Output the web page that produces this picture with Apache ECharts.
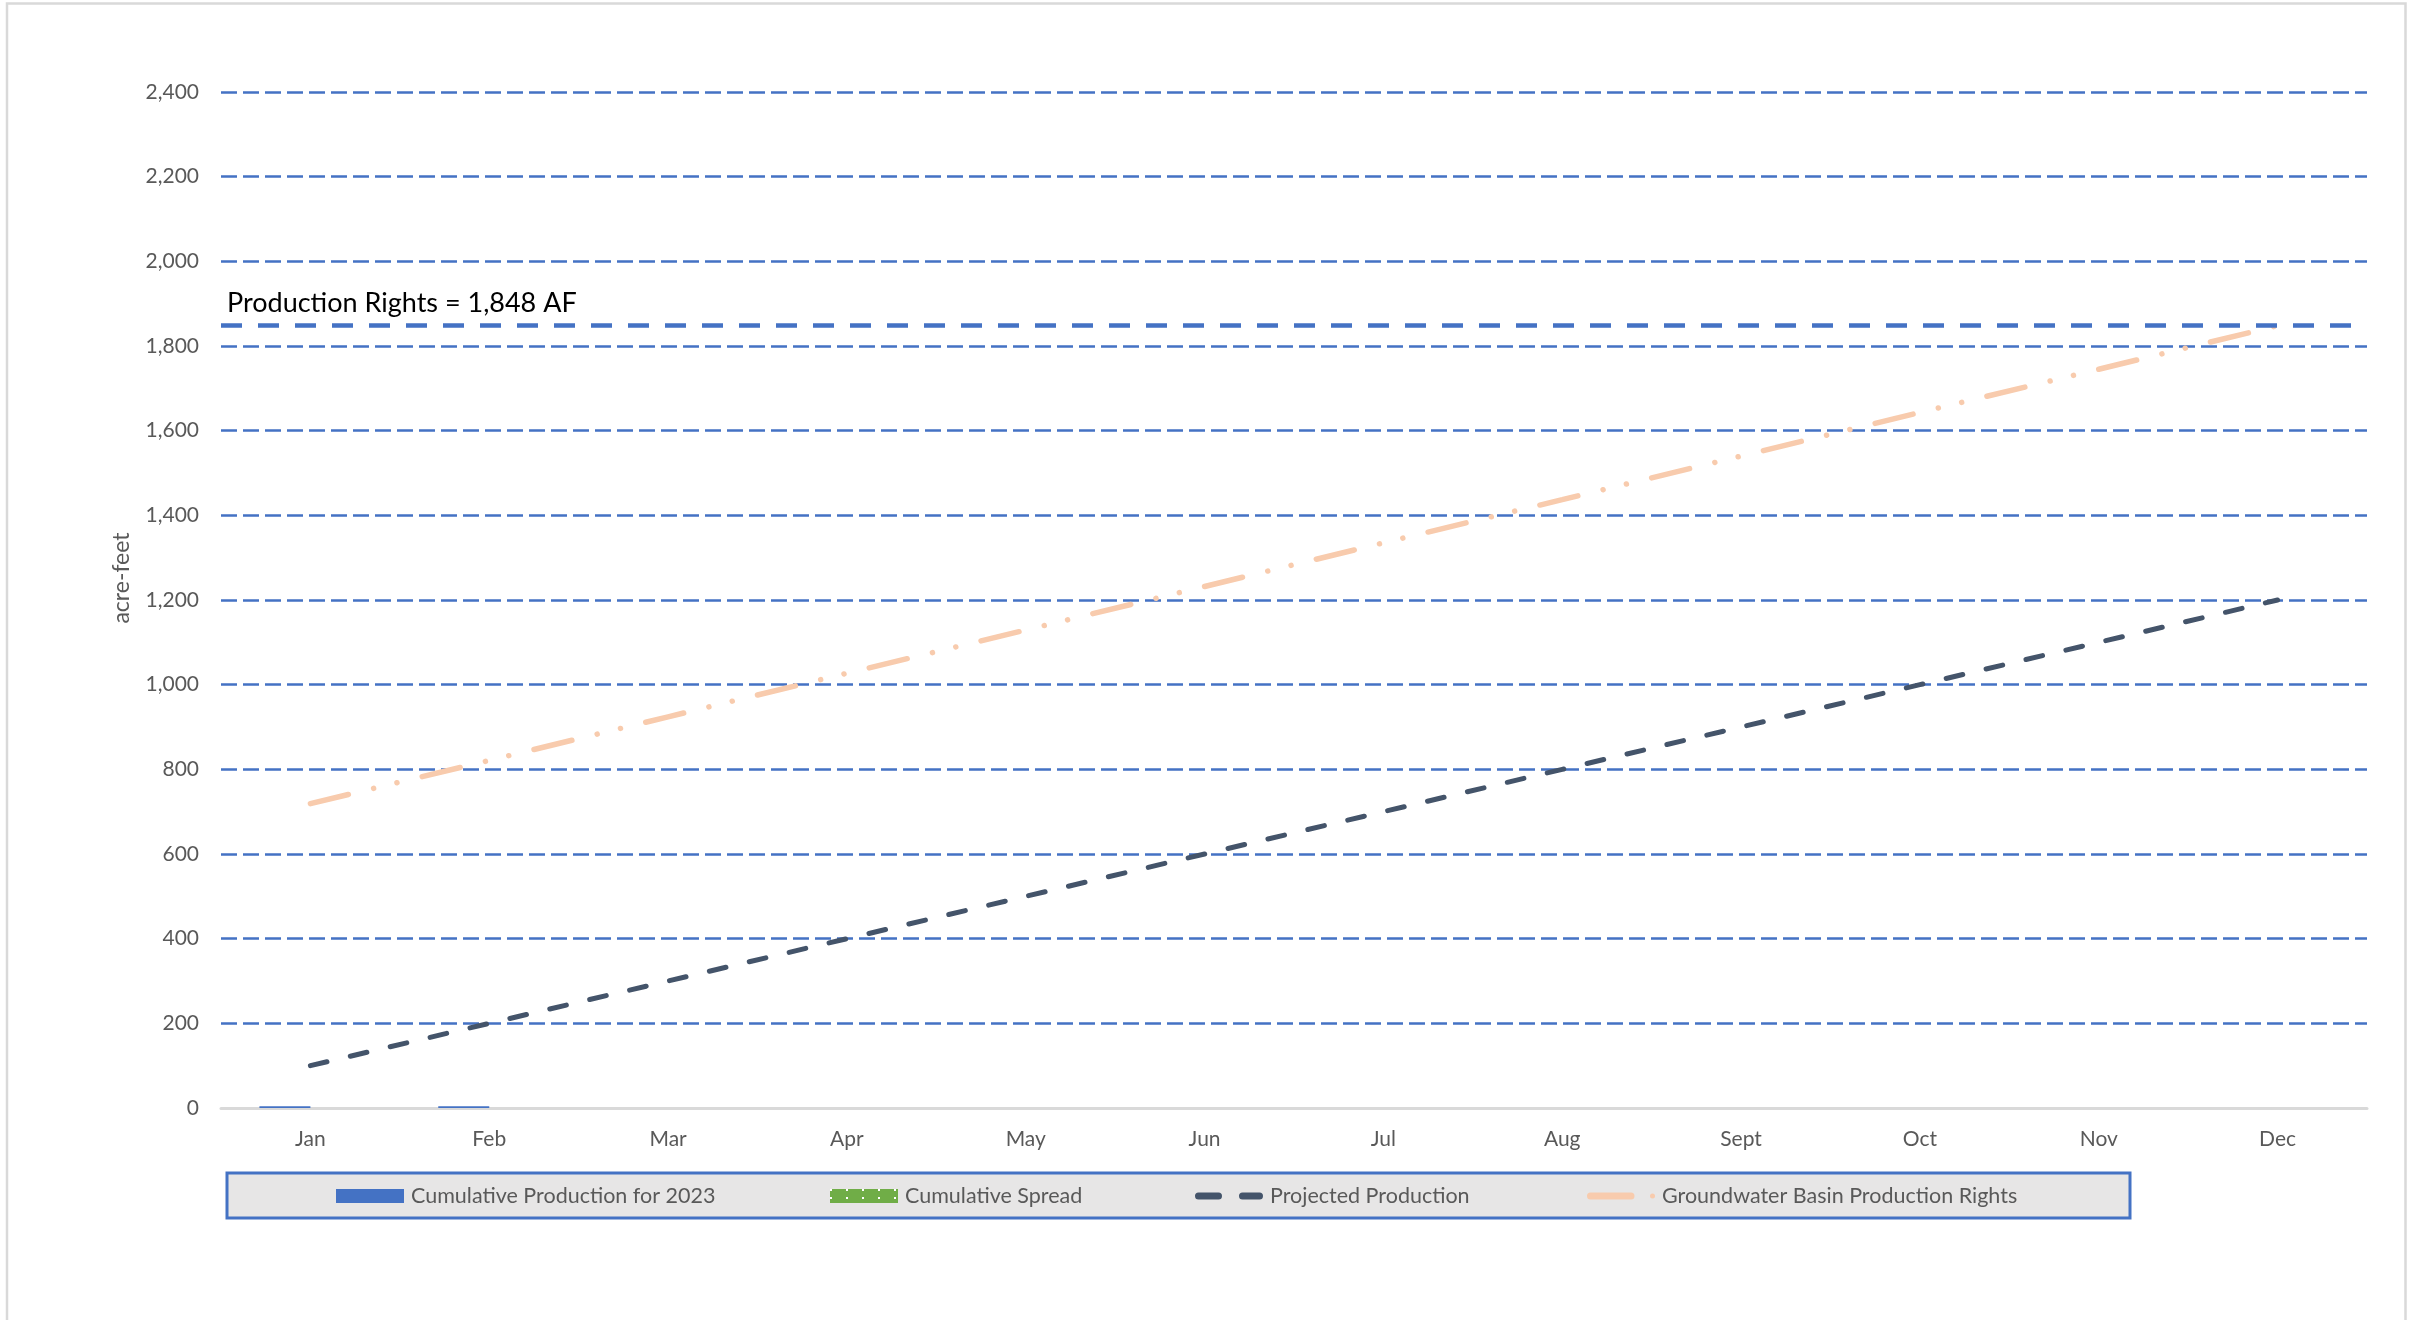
<!DOCTYPE html>
<html>
<head>
<meta charset="utf-8">
<title>Cumulative Production 2023</title>
<script src="https://cdn.jsdelivr.net/npm/echarts@6/dist/echarts.min.js"></script>
<style>
  html, body { margin: 0; padding: 0; background: #ffffff; }
  #chart { width: 2416px; height: 1320px; }
</style>
</head>
<body>
<div id="chart"></div>
<script>
// Months on the category axis
const months = ['Jan', 'Feb', 'Mar', 'Apr', 'May', 'Jun', 'Jul', 'Aug', 'Sept', 'Oct', 'Nov', 'Dec'];

// Cumulative production reported so far this year (acre-feet)
const cumulativeProduction = [4, 4, null, null, null, null, null, null, null, null, null, null];

// Cumulative spread (acre-feet)
const cumulativeSpread = [0, 0, null, null, null, null, null, null, null, null, null, null];

// Projected cumulative production (acre-feet)
const projectedProduction = [100, 200, 300, 400, 500, 600, 700, 800, 900, 1000, 1100, 1200];

// Groundwater basin production rights, cumulative by month (acre-feet)
const basinRights = [719, 821, 924, 1027, 1129, 1232, 1335, 1437, 1540, 1643, 1745, 1848];

// Annual production rights (acre-feet)
const productionRights = 1848;

// Value axis range
const yMin = 0;
const yMax = 2400;
const yStep = 200;

const FONT = 'Lato';
const GREY_TEXT = '#595959';
const BLUE = '#4472C4';

// Legend glyphs for the two line series: a pair of rounded dashes, and a long dash followed by a dot
const dashPairIcon = 'path://M3.5,0 H23.5 A3.5,3.5 0 0 1 23.5,7 H3.5 A3.5,3.5 0 0 1 3.5,0 Z ' +
                     'M47.5,0 H64.5 A3.5,3.5 0 0 1 64.5,7 H47.5 A3.5,3.5 0 0 1 47.5,0 Z';
const dashDotIcon = 'path://M3.5,0 H44 A3.5,3.5 0 0 1 44,7 H3.5 A3.5,3.5 0 0 1 3.5,0 Z ' +
                    'M63,3.5 A2.5,2.5 0 1 0 68,3.5 A2.5,2.5 0 1 0 63,3.5 Z';

const chart = echarts.init(document.getElementById('chart'), null, { renderer: 'canvas' });

const legendCommon = {
  itemWidth: 68,
  itemHeight: 14,
  itemGap: 0,
  top: 1185,
  padding: 0,
  textStyle: { color: GREY_TEXT, fontFamily: FONT, fontSize: 21.5, padding: [0, 0, 0, 2] },
  selectedMode: false
};

const option = {
  animation: false,
  backgroundColor: '#ffffff',
  textStyle: { fontFamily: FONT },
  grid: { left: 221, right: 49, top: 92, bottom: 212, containLabel: false },
  xAxis: {
    type: 'category',
    data: months,
    boundaryGap: true,
    axisLine: { show: true, lineStyle: { color: '#D9D9D9', width: 3 } },
    axisTick: { show: false },
    axisLabel: { color: GREY_TEXT, fontFamily: FONT, fontSize: 21, margin: 21 },
    splitLine: { show: false }
  },
  yAxis: {
    type: 'value',
    min: yMin,
    max: yMax,
    interval: yStep,
    axisLine: { show: false },
    axisTick: { show: false },
    axisLabel: {
      color: GREY_TEXT, fontFamily: FONT, fontSize: 21, margin: 22,
      formatter: v => v.toLocaleString('en-US')
    },
    splitLine: {
      show: true,
      showMinLine: false,
      lineStyle: { color: BLUE, width: 2.5, type: [16, 6] }
    }
  },
  legend: [
    Object.assign({}, legendCommon, {
      left: 336,
      data: [{ name: 'Cumulative Production for 2023', icon: 'rect' }]
    }),
    Object.assign({}, legendCommon, {
      left: 830,
      data: [{ name: 'Cumulative Spread', icon: 'rect' }]
    }),
    Object.assign({}, legendCommon, {
      left: 1195, itemHeight: 7,
      data: [{ name: 'Projected Production', icon: dashPairIcon }]
    }),
    Object.assign({}, legendCommon, {
      left: 1587, itemHeight: 7,
      data: [{ name: 'Groundwater Basin Production Rights', icon: dashDotIcon }]
    })
  ],
  graphic: [
    {
      type: 'rect',
      z: 0,
      silent: true,
      shape: { x: 7, y: 3.5, width: 2398.5, height: 1400 },
      style: { fill: 'none', stroke: '#D9D9D9', lineWidth: 2.5 }
    },
    {
      type: 'rect',
      z: 1,
      silent: true,
      shape: { x: 227, y: 1173, width: 1903, height: 45 },
      style: { fill: '#E7E6E6', stroke: BLUE, lineWidth: 3 }
    },
    {
      type: 'text',
      z: 5,
      silent: true,
      x: 122,
      y: 578,
      rotation: Math.PI / 2,
      style: {
        text: 'acre-feet',
        fill: GREY_TEXT,
        font: '23px ' + FONT,
        align: 'center',
        verticalAlign: 'middle'
      }
    }
  ],
  series: [
    {
      name: 'Cumulative Production for 2023',
      type: 'bar',
      data: cumulativeProduction,
      barWidth: 51,
      barGap: '0%',
      itemStyle: { color: BLUE },
      z: 3,
      markLine: {
        silent: true,
        symbol: ['none', 'none'],
        data: [{ yAxis: productionRights }],
        lineStyle: { color: BLUE, width: 4.5, type: [21, 16] },
        label: {
          show: true,
          position: 'insideStartTop',
          distance: [6, 9],
          formatter: 'Production Rights = ' + productionRights.toLocaleString('en-US') + ' AF',
          color: '#000000',
          fontFamily: FONT,
          fontSize: 27
        },
        z: 6
      }
    },
    {
      name: 'Cumulative Spread',
      type: 'bar',
      data: cumulativeSpread,
      barWidth: 51,
      itemStyle: {
        color: '#70AD47',
        decal: {
          symbol: 'rect',
          symbolSize: 1,
          color: '#ffffff',
          dashArrayX: [[2, 14]],
          dashArrayY: [2, 6],
          rotation: 0
        }
      },
      z: 3
    },
    {
      name: 'Projected Production',
      type: 'line',
      data: projectedProduction,
      symbol: 'none',
      lineStyle: { color: '#44546A', width: 5, type: [17, 24], cap: 'round' },
      itemStyle: { color: '#44546A' },
      z: 4
    },
    {
      name: 'Groundwater Basin Production Rights',
      type: 'line',
      data: basinRights,
      symbol: 'none',
      lineStyle: { color: '#F8CBAD', width: 5.5, type: [39, 26, 0.01, 24, 0.01, 26], cap: 'round' },
      itemStyle: { color: '#F8CBAD' },
      z: 4
    }
  ]
};

chart.setOption(option);
</script>
</body>
</html>
